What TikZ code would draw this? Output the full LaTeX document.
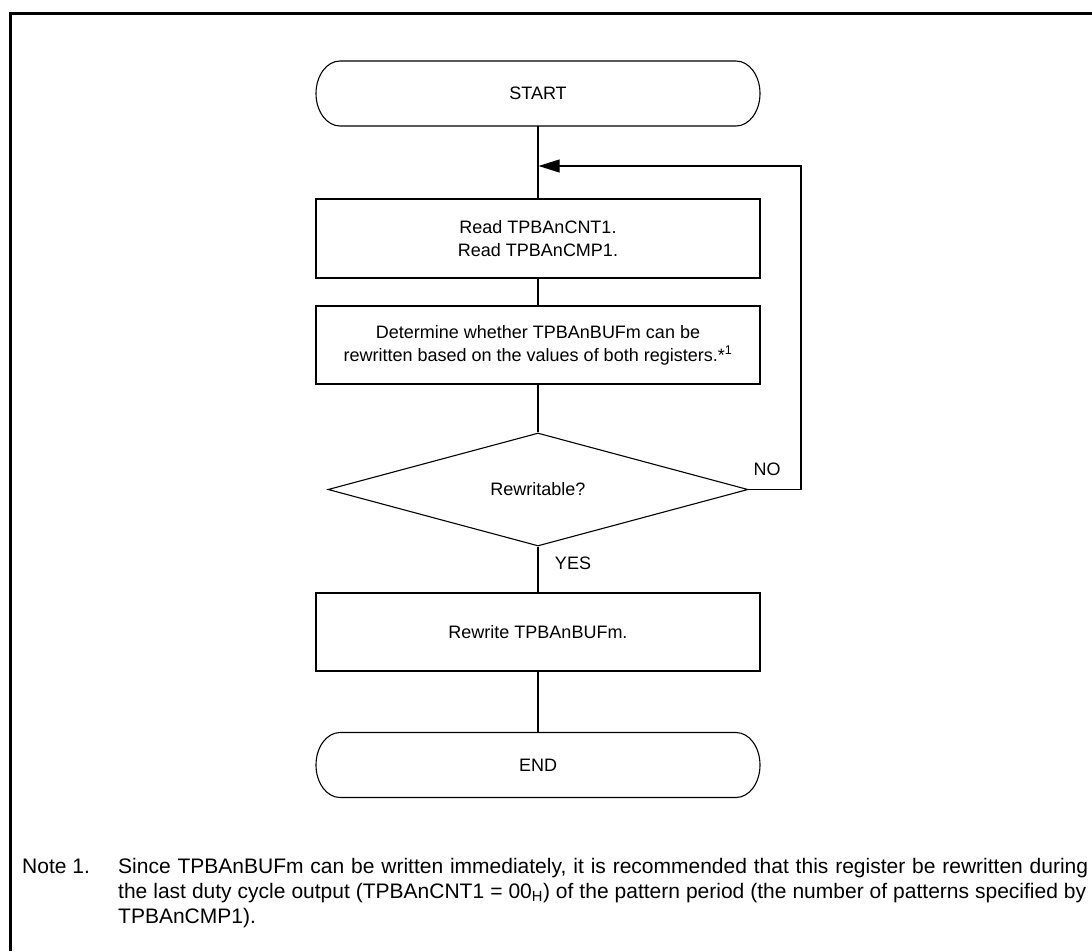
\documentclass[tikz,border=0pt]{standalone}
\usepackage{fontspec}
\setmainfont{Liberation Sans}
\usetikzlibrary{shapes.geometric,arrows.meta}
\newcommand\boxfont{\fontsize{18}{23}\selectfont}
\newcommand\notefont{\fontsize{21}{24}\selectfont}
\newcommand\termframe[1]{%
  \draw[line width=1.1pt] ([xshift=24pt]#1.north west) -- ([xshift=-24pt]#1.north east)
    arc[start angle=90,end angle=-90,x radius=24pt,y radius=32.5pt]
    -- ([xshift=24pt]#1.south west)
    arc[start angle=270,end angle=90,x radius=24pt,y radius=32.5pt] -- cycle;}
\tikzset{
  box/.style={draw, line width=1.1pt, minimum width=444pt, minimum height=79pt, inner sep=0pt, align=center, font=\boxfont},
  term/.style={minimum width=444pt, minimum height=65pt, inner sep=0pt, outer sep=0pt, font=\boxfont},
  decision/.style={diamond, draw, line width=1.1pt, minimum width=420pt, minimum height=113pt, inner sep=0pt, font=\boxfont},
  conn/.style={line width=1.1pt},
  lbl/.style={font=\boxfont, inner sep=0pt},
  notetxt/.style={font=\notefont, inner sep=0pt, anchor=base west}
}
\begin{document}
\begin{tikzpicture}[x=1pt,y=-1pt]
\useasboundingbox (0,0) rectangle (1092,951);
\fill[white] (0,0) rectangle (1092,951);
% frame
\draw[line width=3pt] (10,951) -- (10,13) -- (1092,13);
% nodes
\node[term] (start) at (538,93.5) {START};
\termframe{start}
\node[box] (read) at (538,238.5) {Read TPBAnCNT1.\\Read TPBAnCMP1.};
\node[box, minimum height=78pt] (det) at (538,345) {Determine whether TPBAnBUFm can be\\rewritten based on the values of both registers.*\textsuperscript{1}};
\node[decision] (dec) at (538,489.5) {Rewritable?};
\node[box, minimum height=78pt] (rew) at (538,632) {Rewrite TPBAnBUFm.};
\node[term] (end) at (538,765) {END};
\termframe{end}
% connectors
\draw[conn] (start) -- (read);
\draw[conn] (read) -- (det);
\draw[conn] (det) -- (dec);
\draw[conn] (dec) -- (rew);
\draw[conn] (rew) -- (end);
\coordinate (nr) at (801,166);
\coordinate (jn) at (538.6,166);
\draw[conn,-{Triangle[length=21pt,width=13pt]}] (dec.east) -| (nr) -- (jn);
\node[lbl] (no) at (767,469) {NO};
\node[lbl] (yes) at (573,563) {YES};
% note
\node[notetxt] (note) at (22,873) {Note 1.};
\node[notetxt] (l1) at (118,873) {\makebox[970pt][s]{Since TPBAnBUFm can be written immediately, it is recommended that this register be rewritten during}};
\node[notetxt] (l2) at (118,898) {\makebox[968pt][s]{the last duty cycle output (TPBAnCNT1 = 00\textsubscript{H}) of the pattern period (the number of patterns specified by}};
\node[notetxt] (l3) at (118,923) {TPBAnCMP1).};
\end{tikzpicture}
\end{document}
